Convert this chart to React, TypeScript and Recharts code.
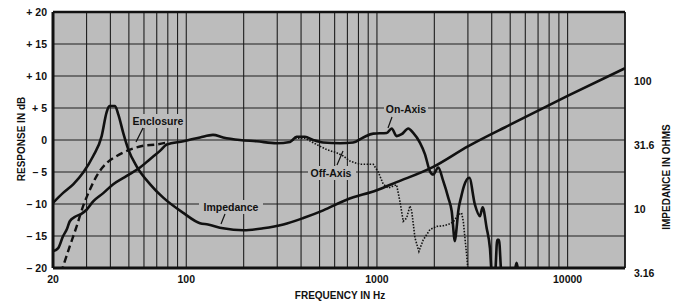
import React from 'react';
import { LineChart, Line, XAxis, YAxis, CartesianGrid, ReferenceLine } from 'recharts';

// ---- axis ticks ----
const xGridTicks = [20, 30, 40, 50, 60, 70, 80, 90, 100, 200, 300, 400, 500, 600, 700, 800, 900, 1000, 2000, 3000, 4000, 5000, 6000, 7000, 8000, 9000, 10000, 20000];
const xLabelledTicks = [20, 100, 1000, 10000];
const xTickLabels = ['20', '100', '1000', '10000'];
const dbTicks = [-20, -15, -10, -5, 0, 5, 10, 15, 20];
const dbTickLabels = ['– 20', '– 15', '– 10', '– 5', '0', '+ 5', '+ 10', '+ 15', '+ 20'];
const ohmTicks = [3.16, 10, 31.6, 100];
const ohmTickLabels = ['3.16', '10', '31.6', '100'];

// ---- Impedance (ohms, right axis) ----
const impFreq = [20, 22.6, 25.6, 28.8, 32.5, 36.0, 38.2, 39.5, 42.3, 44.0, 46.7, 49.7, 54.9, 64.5, 75.7, 96.5, 118, 130, 156, 200, 253, 323, 411, 523, 694, 997, 1268, 1974, 3000, 5000, 10000, 20000];
const impOhms = [10.2, 12.2, 14.3, 17.6, 23.7, 33.9, 51.9, 58.2, 58.2, 50.1, 35.9, 26.6, 19.7, 14.3, 11.2, 8.51, 7.07, 6.91, 6.45, 6.23, 6.45, 6.91, 7.76, 8.91, 10.8, 12.8, 14.8, 19.5, 28.2, 41.7, 69.9, 115];

// ---- On-Axis response (dB) ----
const onFreq = [20, 21.3, 22.6, 23.6, 24.5, 26.1, 28.3, 30.0, 32.5, 36.7, 41.4, 48.7, 57.2, 64.5, 72.8, 79.0, 96.5, 118, 138, 156, 191, 234, 298, 350, 379, 419, 463, 523, 640, 750, 848, 957, 1125, 1195, 1268, 1348, 1460, 1550, 1680, 1785, 1897, 1975, 2096, 2226, 2366, 2466, 2565, 2618, 2670, 2760, 2860, 3050, 3265, 3468, 3583, 3760, 3915, 4010, 4160, 4275, 4365, 4505, 5230, 5400, 5560, 6000];
const onDb = [-17.4, -16.9, -15.0, -14.0, -12.7, -12.0, -11.5, -10.9, -9.6, -8.3, -6.9, -5.6, -4.3, -3.0, -1.7, -0.7, -0.2, 0.4, 0.8, 0.4, 0, -0.2, -0.5, -0.3, 0.5, 0.5, 0, -0.4, -0.5, -0.4, 0.4, 1.0, 1.1, 1.8, 0.6, 0.9, 1.8, 1.1, -0.4, -2.2, -4.9, -5.4, -4.3, -6.4, -9.0, -11.1, -15.8, -13.7, -11.1, -9.0, -7.2, -5.9, -10.1, -11.9, -10.5, -13.7, -16.9, -21, -21, -15.6, -15.6, -21, -21, -19.2, -21, -21];

// ---- Off-Axis response (dB) ----
const offFreq = [350, 379, 419, 482, 545, 615, 666, 722, 815, 957, 1016, 1079, 1146, 1268, 1320, 1374, 1431, 1490, 1522, 1583, 1660, 1749, 1897, 2056, 2226, 2366, 2513, 2668, 2780, 2838, 2894, 2954, 3013];
const offDb = [-0.3, 0.3, 0.3, -0.7, -1.5, -2.0, -2.5, -3.3, -3.8, -3.8, -5.0, -6.9, -7.5, -7.0, -9.6, -12.7, -12.2, -10.3, -11.1, -15.3, -17.4, -15.6, -14.0, -13.5, -13.4, -13.2, -12.8, -11.7, -11.4, -12.7, -15.3, -17.9, -21];

// ---- Enclosure response (dB) ----
const encFreq = [22.0, 24.5, 26.6, 28.8, 31.3, 33.9, 38.2, 43.2, 50.7, 59.5, 70.0, 79.0];
const encDb = [-20.8, -16.6, -13.5, -10.3, -7.7, -5.6, -3.6, -2.5, -1.5, -0.9, -0.7, -0.4];

const zip = (fs: number[], vs: number[]) => fs.map((f, i) => ({ f, v: vs[i] }));
const impData = zip(impFreq, impOhms);
const onData = zip(onFreq, onDb);
const offData = zip(offFreq, offDb);
const encData = zip(encFreq, encDb);

const FONT = '"Liberation Sans", Arial, Helvetica, sans-serif';
const INK = '#111';
const PLOT_BG = '#bcbcbc';

const LeftTick = (props: any) => {
  const { x, y, payload } = props;
  const i = dbTicks.indexOf(payload.value);
  return (
    <text x={x} y={y} textAnchor="end" dominantBaseline="central" fontFamily={FONT} fontWeight={700} fontSize={10.5} fill={INK}>
      {i >= 0 ? dbTickLabels[i] : ''}
    </text>
  );
};

const RightTick = (props: any) => {
  const { x, y, payload } = props;
  const i = ohmTicks.indexOf(payload.value);
  return (
    <text x={x} y={y + 5} textAnchor="start" dominantBaseline="central" fontFamily={FONT} fontWeight={700} fontSize={10.5} fill={INK}>
      {i >= 0 ? ohmTickLabels[i] : ''}
    </text>
  );
};

const BottomTick = (props: any) => {
  const { x, y, payload } = props;
  const i = xLabelledTicks.indexOf(payload.value);
  if (i < 0) return <g />;
  return (
    <text x={x} y={y} textAnchor="middle" dominantBaseline="central" fontFamily={FONT} fontWeight={700} fontSize={10.5} fill={INK}>
      {xTickLabels[i]}
    </text>
  );
};

const labelStyle = { fontFamily: FONT, fontWeight: 700, fontSize: 10.5, fill: INK } as const;

export default function App() {
  return (
    <div style={{ position: 'absolute', left: 0, top: 0, width: 678, height: 302, background: '#fff' }}>
      <LineChart width={678} height={302} margin={{ top: 12, right: 0, bottom: 0, left: 0 }}>
        <CartesianGrid stroke="#1e1e1e" strokeWidth={1.1} fill={PLOT_BG} fillOpacity={1} />
        <XAxis
          dataKey="f"
          type="number"
          scale="log"
          domain={[20, 20000]}
          allowDataOverflow
          ticks={xGridTicks}
          interval={0}
          height={34}
          tickSize={0}
          tickMargin={11}
          tickLine={false}
          axisLine={{ stroke: INK, strokeWidth: 3 }}
          tick={<BottomTick />}
        />
        <YAxis
          yAxisId={0}
          type="number"
          domain={[-20, 20]}
          allowDataOverflow
          ticks={dbTicks}
          interval={0}
          width={53}
          tickSize={0}
          tickMargin={6}
          tickLine={false}
          axisLine={{ stroke: INK, strokeWidth: 3 }}
          tick={<LeftTick />}
        />
        <YAxis
          yAxisId="z"
          orientation="right"
          type="number"
          scale="log"
          domain={[3.16, 316]}
          allowDataOverflow
          ticks={ohmTicks}
          interval={0}
          width={53}
          tickSize={0}
          tickMargin={9}
          tickLine={false}
          axisLine={{ stroke: INK, strokeWidth: 1.5 }}
          tick={<RightTick />}
        />
        <ReferenceLine y={20} stroke={INK} strokeWidth={2.5} />
        <Line data={impData} dataKey="v" yAxisId="z" type="monotone" stroke={INK} strokeWidth={2.6} dot={false} isAnimationActive={false} />
        <Line data={encData} dataKey="v" type="monotone" stroke={INK} strokeWidth={2.4} strokeDasharray="7 4" dot={false} isAnimationActive={false} />
        <Line data={offData} dataKey="v" type="linear" stroke={INK} strokeWidth={1.6} strokeDasharray="1.5 1.5" dot={false} isAnimationActive={false} />
        <Line data={onData} dataKey="v" type="monotone" stroke={INK} strokeWidth={2.6} dot={false} isAnimationActive={false} />
      </LineChart>
      <svg width={678} height={302} style={{ position: 'absolute', left: 0, top: 0, pointerEvents: 'none' }}>
        {/* series labels */}
        <rect x={131} y={114} width={54} height={14} fill={PLOT_BG} />
        <text x={158} y={121} textAnchor="middle" dominantBaseline="central" {...labelStyle}>Enclosure</text>
        <line x1={143} y1={128} x2={136} y2={142} stroke={INK} strokeWidth={1.2} />

        <rect x={384} y={102} width={44} height={14} fill={PLOT_BG} />
        <text x={406} y={109} textAnchor="middle" dominantBaseline="central" {...labelStyle}>On-Axis</text>
        <line x1={392} y1={117} x2={388} y2={128} stroke={INK} strokeWidth={1.2} />

        <rect x={308} y={166} width={48} height={14} fill={PLOT_BG} />
        <text x={331} y={173} textAnchor="middle" dominantBaseline="central" {...labelStyle}>Off-Axis</text>
        <line x1={337} y1={165} x2={343} y2={151} stroke={INK} strokeWidth={1.2} />

        <rect x={199} y={200} width={64} height={14} fill={PLOT_BG} />
        <text x={231} y={207} textAnchor="middle" dominantBaseline="central" {...labelStyle}>Impedance</text>
        <line x1={225} y1={214} x2={221} y2={224} stroke={INK} strokeWidth={1.2} />

        {/* axis titles */}
        <text x={21} y={139} transform="rotate(-90 21 139)" textAnchor="middle" dominantBaseline="central" fontFamily={FONT} fontWeight={700} fontSize={10} fill={INK}>RESPONSE IN dB</text>
        <text x={666} y={177} transform="rotate(-90 666 177)" textAnchor="middle" dominantBaseline="central" fontFamily={FONT} fontWeight={700} fontSize={10} fill={INK}>IMPEDANCE IN OHMS</text>
        <text x={340} y={295} textAnchor="middle" dominantBaseline="central" fontFamily={FONT} fontWeight={700} fontSize={10} fill={INK}>FREQUENCY IN Hz</text>
      </svg>
    </div>
  );
}
